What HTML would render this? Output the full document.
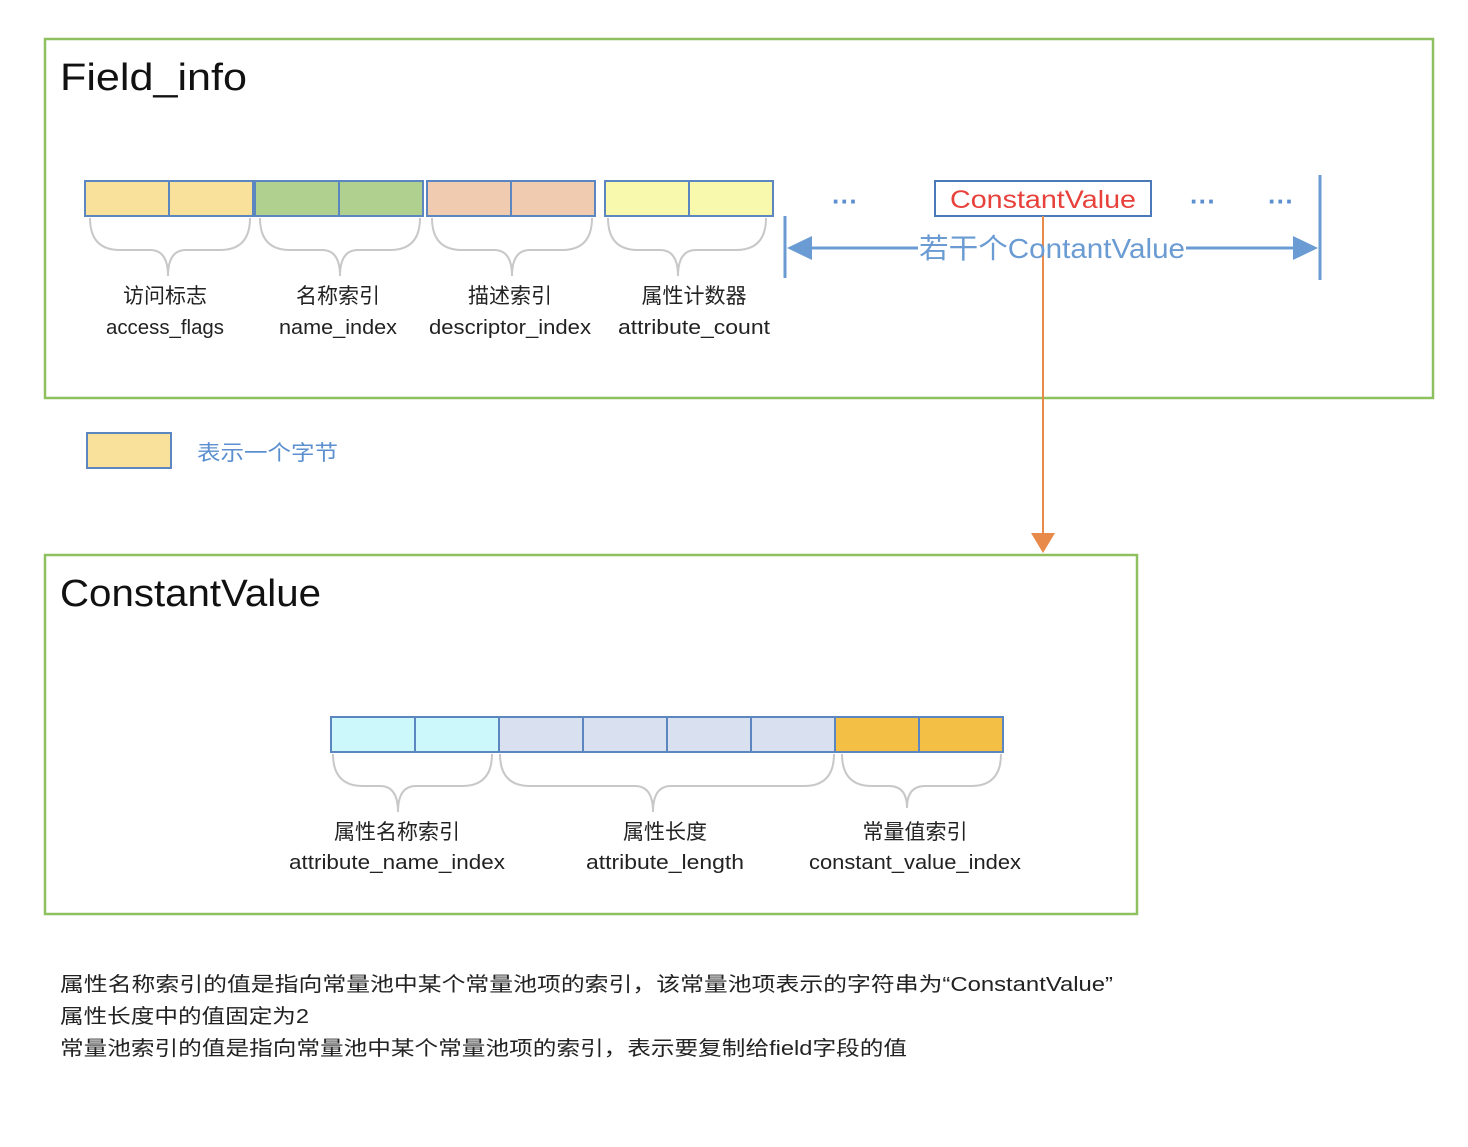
<!DOCTYPE html>
<html><head><meta charset="utf-8"><style>
body{margin:0;background:#fff}
text{font-family:"Liberation Sans","Noto Sans CJK SC",sans-serif}
</style></head><body>
<svg width="1468" height="1142" viewBox="0 0 1468 1142" xmlns="http://www.w3.org/2000/svg">
<rect x="0" y="0" width="1468" height="1142" fill="#fff"/>
<rect x="45" y="39" width="1388" height="359" fill="none" stroke="#8fc060" stroke-width="2.5"/>
<text x="60" y="90" font-size="38" fill="#111" textLength="187" lengthAdjust="spacingAndGlyphs">Field_info</text>
<g stroke="#5b86c0" stroke-width="2">
<rect x="85" y="181" width="84" height="35" fill="#f9e19c"/><rect x="169" y="181" width="84" height="35" fill="#f9e19c"/>
<rect x="255" y="181" width="84" height="35" fill="#afd08f"/><rect x="339" y="181" width="84" height="35" fill="#afd08f"/>
<rect x="427" y="181" width="84" height="35" fill="#f1cbb0"/><rect x="511" y="181" width="84" height="35" fill="#f1cbb0"/>
<rect x="605" y="181" width="84" height="35" fill="#f8f9ac"/><rect x="689" y="181" width="84" height="35" fill="#f8f9ac"/>
</g>
<g fill="none" stroke="#c8c8c8" stroke-width="2">
<path d="M90 218 Q90 250 120 250 L150 250 Q168 250 168 276 Q168 250 186 250 L220 250 Q250 250 250 218"/>
<path d="M260 218 Q260 250 290 250 L322 250 Q340 250 340 276 Q340 250 358 250 L390 250 Q420 250 420 218"/>
<path d="M432 218 Q432 250 462 250 L494 250 Q512 250 512 276 Q512 250 530 250 L562 250 Q592 250 592 218"/>
<path d="M608 218 Q608 250 638 250 L660 250 Q678 250 678 276 Q678 250 696 250 L736 250 Q766 250 766 218"/>
</g>
<g font-size="21" fill="#222" text-anchor="middle">
<text x="165" y="303">访问标志</text><text x="165" y="334" font-size="20" textLength="118" lengthAdjust="spacingAndGlyphs">access_flags</text>
<text x="338" y="303">名称索引</text><text x="338" y="334" font-size="20" textLength="118" lengthAdjust="spacingAndGlyphs">name_index</text>
<text x="510" y="303">描述索引</text><text x="510" y="334" font-size="20" textLength="162" lengthAdjust="spacingAndGlyphs">descriptor_index</text>
<text x="694" y="303">属性计数器</text><text x="694" y="334" font-size="20" textLength="152" lengthAdjust="spacingAndGlyphs">attribute_count</text>
</g>
<g fill="#5b8fd0" font-size="26" font-weight="bold" text-anchor="middle">
<text x="845" y="210">···</text><text x="1203" y="210">···</text><text x="1281" y="210">···</text>
</g>
<rect x="935" y="181" width="216" height="35" fill="#fff" stroke="#4a7ab8" stroke-width="2"/>
<text x="1043" y="208" font-size="25" fill="#e8403a" text-anchor="middle" textLength="186" lengthAdjust="spacingAndGlyphs">ConstantValue</text>
<g stroke="#6a9bd2" stroke-width="3">
<line x1="785" y1="216" x2="785" y2="278"/><line x1="1320" y1="175" x2="1320" y2="280"/>
<line x1="800" y1="248" x2="918" y2="248"/><line x1="1186" y1="248" x2="1300" y2="248"/>
</g>
<polygon points="787,248 812,236 812,260" fill="#6a9bd2"/>
<polygon points="1318,248 1293,236 1293,260" fill="#6a9bd2"/>
<line x1="1043" y1="216" x2="1043" y2="540" stroke="#e88a4a" stroke-width="2"/>
<text x="1052" y="258" font-size="28" fill="#6a9bd2" text-anchor="middle" textLength="266" lengthAdjust="spacingAndGlyphs">若干个ContantValue</text>
<polygon points="1031,533 1055,533 1043,553" fill="#e88a4a"/>
<rect x="87" y="433" width="84" height="35" fill="#f9e19c" stroke="#5b86c0" stroke-width="2"/>
<text x="197" y="460" font-size="21" fill="#5b8fd0" textLength="141" lengthAdjust="spacingAndGlyphs">表示一个字节</text>
<rect x="45" y="555" width="1092" height="359" fill="none" stroke="#8fc060" stroke-width="2.5"/>
<text x="60" y="606" font-size="38" fill="#111" textLength="261" lengthAdjust="spacingAndGlyphs">ConstantValue</text>
<g stroke="#5b86c0" stroke-width="2">
<rect x="331" y="717" width="84" height="35" fill="#ccf8fc"/><rect x="415" y="717" width="84" height="35" fill="#ccf8fc"/>
<rect x="499" y="717" width="84" height="35" fill="#d9e0f0"/><rect x="583" y="717" width="84" height="35" fill="#d9e0f0"/>
<rect x="667" y="717" width="84" height="35" fill="#d9e0f0"/><rect x="751" y="717" width="84" height="35" fill="#d9e0f0"/>
<rect x="835" y="717" width="84" height="35" fill="#f4bf45"/><rect x="919" y="717" width="84" height="35" fill="#f4bf45"/>
</g>
<g fill="none" stroke="#c8c8c8" stroke-width="2">
<path d="M333 754 Q333 786 363 786 L380 786 Q398 786 398 812 Q398 786 416 786 L462 786 Q492 786 492 754"/>
<path d="M500 754 Q500 786 530 786 L635 786 Q653 786 653 812 Q653 786 671 786 L804 786 Q834 786 834 754"/>
<path d="M842 754 Q842 786 872 786 L889 786 Q907 786 907 808 Q907 786 925 786 L971 786 Q1001 786 1001 754"/>
</g>
<g font-size="21" fill="#222" text-anchor="middle">
<text x="397" y="839">属性名称索引</text><text x="397" y="869" font-size="20" textLength="216" lengthAdjust="spacingAndGlyphs">attribute_name_index</text>
<text x="665" y="839">属性长度</text><text x="665" y="869" font-size="20" textLength="158" lengthAdjust="spacingAndGlyphs">attribute_length</text>
<text x="915" y="839">常量值索引</text><text x="915" y="869" font-size="20" textLength="212" lengthAdjust="spacingAndGlyphs">constant_value_index</text>
</g>
<g font-size="20" fill="#222">
<text x="60" y="991" textLength="1053" lengthAdjust="spacingAndGlyphs">属性名称索引的值是指向常量池中某个常量池项的索引，该常量池项表示的字符串为“ConstantValue”</text>
<text x="60" y="1023" textLength="249" lengthAdjust="spacingAndGlyphs">属性长度中的值固定为2</text>
<text x="60" y="1055" textLength="847" lengthAdjust="spacingAndGlyphs">常量池索引的值是指向常量池中某个常量池项的索引，表示要复制给field字段的值</text>
</g>
</svg>
</body></html>
